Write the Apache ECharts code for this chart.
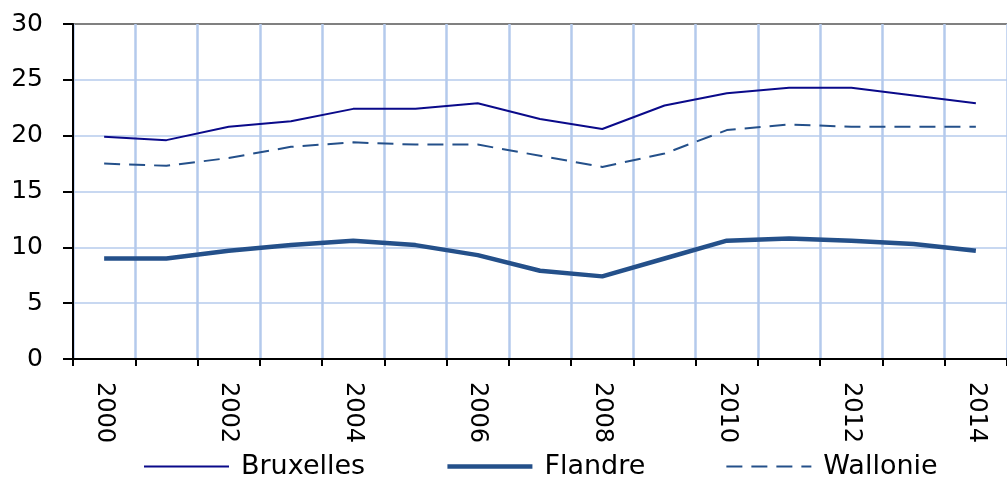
<!DOCTYPE html>
<html>
<head>
<meta charset="utf-8">
<script src="https://cdn.jsdelivr.net/npm/echarts@6/dist/echarts.min.js"></script>
<style>
  html, body { margin: 0; padding: 0; background: #fff; }
  #chart { width: 1007px; height: 477px; }
</style>
</head>
<body>
<div id="chart"></div>
<script>
// années (axe x)
const years = ["2000", "2001", "2002", "2003", "2004", "2005", "2006", "2007",
    "2008", "2009", "2010", "2011", "2012", "2013", "2014"];
// valeurs
const bruxelles = [19.9, 19.6, 20.8, 21.3, 22.4, 22.4, 22.9, 21.5, 20.6, 22.7, 23.8, 24.3, 24.3, 23.6, 22.9];
const flandre = [9.0, 9.0, 9.7, 10.2, 10.6, 10.2, 9.3, 7.9, 7.4, 9.0, 10.6, 10.8, 10.6, 10.3, 9.7];
const wallonie = [17.5, 17.3, 18.0, 19.0, 19.4, 19.2, 19.2, 18.2, 17.2, 18.4, 20.5, 21.0, 20.8, 20.8, 20.8];

const chart = echarts.init(document.getElementById("chart"));

const option = {
    animation: false,
    textStyle: { fontFamily: "DejaVu Sans" },
    grid: {
        left: 73,
        right: -11, // le cadre dépasse à droite comme dans l'original
        top: 24,
        bottom: 118,
    },
    legend: {
        left: 143,
        top: 453,
        padding: 0,
        itemWidth: 85,
        itemHeight: 14,
        itemGap: 80,
        itemStyle: { opacity: 0 }, // pas de symbole dans la légende
        textStyle: {
            fontSize: 27,
            color: "#000",
            padding: [0, 0, 0, 7],
        },
        data: [
            { name: "Bruxelles", lineStyle: { width: 2 } },
            { name: "Flandre", lineStyle: { width: 4.5 } },
            { name: "Wallonie", lineStyle: { width: 2 } },
        ],
    },
    xAxis: {
        type: "category",
        data: years,
        boundaryGap: true,
        axisLine: { lineStyle: { color: "#000", width: 2 } },
        axisTick: { show: true, interval: 0, length: 7, lineStyle: { color: "#000", width: 2 } },
        axisLabel: {
            interval: 1, // une année sur deux
            rotate: -90,
            margin: 23,
            fontSize: 24,
            color: "#000",
        },
        splitLine: {
            show: true,
            interval: 0,
            lineStyle: { color: "#b4caec", width: 2.5 },
        },
    },
    yAxis: {
        type: "value",
        min: 0,
        max: 30,
        interval: 5,
        axisLine: { show: true, lineStyle: { color: "#000", width: 2 } },
        axisTick: { show: true, length: 10, lineStyle: { color: "#000", width: 2 } },
        axisLabel: { margin: 30, fontSize: 25, color: "#000" },
        splitLine: {
            lineStyle: {
                // la dernière ligne (30) est grise
                color: ["#c8d8f1", "#c8d8f1", "#c8d8f1", "#c8d8f1", "#c8d8f1", "#c8d8f1", "#808080"],
                width: 2,
            },
        },
    },
    series: [
        {
            name: "Bruxelles",
            type: "line",
            data: bruxelles,
            symbol: "none",
            lineStyle: { color: "#0a0a8a", width: 2 },
            itemStyle: { color: "#0a0a8a" },
        },
        {
            name: "Flandre",
            type: "line",
            data: flandre,
            symbol: "none",
            lineStyle: { color: "#24508a", width: 4.5 },
            itemStyle: { color: "#24508a" },
        },
        {
            name: "Wallonie",
            type: "line",
            data: wallonie,
            symbol: "none",
            lineStyle: { color: "#24508a", width: 2, type: [16, 9] },
            itemStyle: { color: "#24508a" },
        },
    ],
};

chart.setOption(option);
</script>
</body>
</html>
